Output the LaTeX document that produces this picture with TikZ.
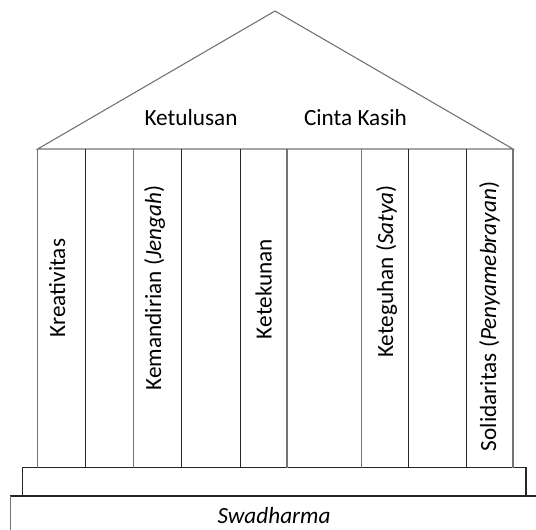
\documentclass[tikz,border=0pt]{standalone}
\usepackage{fontspec}
\setmainfont{Carlito}
\begin{document}
\begin{tikzpicture}[x=1pt,y=-1pt,
  lbl/.style={inner sep=0pt,font=\fontsize{23.2}{26}\selectfont,anchor=base},
  vlbl/.style={lbl,rotate=90},
  gline/.style={draw=black!55,line width=1.1pt},
  bline/.style={draw=black!85,line width=1.1pt}]
\useasboundingbox (0,0) rectangle (536,530);
\clip (0,0) rectangle (536,530);
% base
\draw[bline] (10.7,496) rectangle (560,560);
\draw[gline] (10.7,496) -- (10.7,560);
\draw[bline] (22.7,467.7) rectangle (526,495.7);
% roof
\coordinate (rl) at (37.7,149);
\coordinate (apex) at (275,11);
\coordinate (rr) at (513,149);
\draw[gline] (rl) -- (apex) -- (rr) -- cycle;
% pillars
\foreach \x/\s in {37.7/gline,85.7/bline,133.7/gline,181.7/bline,240.3/bline,287/gline,361.7/gline,408.3/bline,466.3/bline,513/gline}
  \draw[\s] (\x,149) -- (\x,467.7);
% texts
\node[lbl] (t1) at (191,125) {Ketulusan};
\node[lbl] (t2) at (355.5,125) {Cinta Kasih};
\node[lbl] (sw) at (274,523) {\itshape Swadharma};
\node[vlbl] (c1) at (65,288) {Kreativitas};
\node[vlbl] (c2) at (161,288) {Kemandirian (\textit{Jengah})};
\node[vlbl] (c3) at (271.7,289) {Ketekunan};
\node[vlbl] (c4) at (393,271.5) {Keteguhan (\textit{Satya})};
\node[vlbl] (c5) at (496,316.5) {Solidaritas (\textit{Penyamebrayan})};
\end{tikzpicture}
\end{document}
